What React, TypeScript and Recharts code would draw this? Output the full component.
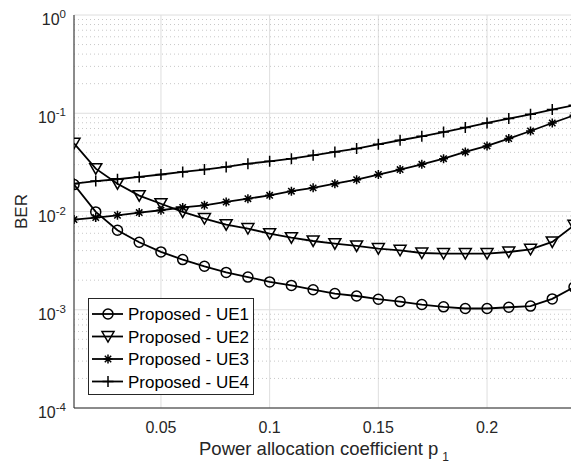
import React from "react";
import { LineChart, Line, XAxis, YAxis, CartesianGrid, Legend } from "recharts";

const pValues = [0.01, 0.02, 0.03, 0.04, 0.05, 0.06, 0.07, 0.08, 0.09, 0.1, 0.11, 0.12, 0.13, 0.14, 0.15, 0.16, 0.17, 0.18, 0.19, 0.2, 0.21, 0.22, 0.23, 0.24];
const ue1 = [0.0188, 0.0099, 0.00644, 0.00486, 0.00388, 0.00324, 0.00277, 0.0024, 0.00215, 0.00192, 0.00177, 0.0016, 0.00146, 0.00138, 0.00128, 0.00121, 0.00113, 0.00107, 0.00103, 0.00103, 0.00106, 0.00109, 0.00129, 0.0017];
const ue2 = [0.0494, 0.0273, 0.0192, 0.0145, 0.012, 0.0099, 0.00847, 0.00735, 0.0067, 0.00595, 0.00542, 0.00501, 0.00471, 0.00446, 0.00419, 0.00403, 0.00378, 0.00373, 0.00373, 0.00373, 0.00387, 0.00412, 0.0049, 0.00724];
const ue3 = [0.00827, 0.00867, 0.00915, 0.00975, 0.0103, 0.011, 0.01156, 0.0125, 0.0135, 0.0146, 0.0161, 0.0174, 0.0192, 0.0211, 0.0238, 0.0267, 0.0302, 0.0345, 0.0404, 0.0465, 0.0552, 0.066, 0.0796, 0.0953];
const ue4 = [0.0192, 0.0204, 0.0213, 0.0225, 0.0238, 0.0253, 0.0267, 0.0284, 0.0307, 0.0324, 0.0345, 0.0373, 0.0404, 0.0437, 0.0483, 0.0531, 0.0582, 0.0644, 0.0714, 0.0796, 0.0883, 0.0976, 0.109, 0.1205];

const xTicks = [0.05, 0.1, 0.15, 0.2];
const yTicks = [1e-4, 1e-3, 1e-2, 1e-1, 1];
const yMinor = [-4, -3, -2, -1].flatMap((e) => [2, 3, 4, 5, 6, 7, 8, 9].map((m) => m * Math.pow(10, e)));

const INK = "#262626";
const FONT = "'Liberation Sans', Arial, Helvetica, sans-serif";

const series = [
  { key: "ue1", name: "Proposed - UE1", marker: "circle" },
  { key: "ue2", name: "Proposed - UE2", marker: "triangle" },
  { key: "ue3", name: "Proposed - UE3", marker: "star" },
  { key: "ue4", name: "Proposed - UE4", marker: "plus" },
];

const data = pValues.map((p, i) => ({ p, ue1: ue1[i], ue2: ue2[i], ue3: ue3[i], ue4: ue4[i] }));

function Marker({ type, cx, cy }: { type: string; cx: number; cy: number }) {
  const st = { stroke: "#000", strokeWidth: 1.5, fill: "none" };
  if (type === "circle") return <circle cx={cx} cy={cy} r={5} {...st} />;
  if (type === "triangle")
    return <polygon points={`${cx - 6},${cy - 5} ${cx + 6},${cy - 5} ${cx},${cy + 5.5}`} {...st} />;
  if (type === "star") {
    const r = 4.5, d = 3.2;
    return (
      <path
        d={`M${cx - r},${cy}H${cx + r}M${cx},${cy - r}V${cy + r}M${cx - d},${cy - d}L${cx + d},${cy + d}M${cx - d},${cy + d}L${cx + d},${cy - d}`}
        {...st}
      />
    );
  }
  const r = 5.5;
  return <path d={`M${cx - r},${cy}H${cx + r}M${cx},${cy - r}V${cy + r}`} {...st} />;
}

const makeDot = (type: string) => (props: any) => {
  const { cx, cy, index } = props;
  if (cx == null || cy == null) return <g key={`e-${type}-${index}`} />;
  return <Marker key={`${type}-${index}`} type={type} cx={cx} cy={cy} />;
};

// minor grid rows go through the y axis scale
const minorRows = ({ yAxis }: any) => {
  const sc = yAxis && yAxis.scale;
  if (!sc) return [];
  return yMinor.map((v) => (typeof sc === "function" ? sc(v) : sc.map(v)));
};

const YTick = ({ x, y, payload }: any) => {
  const e = Math.round(Math.log10(payload.value));
  return (
    <text x={x} y={y + 10} textAnchor="end" fill={INK} fontSize={16} fontFamily={FONT}>
      <tspan>10</tspan>
      <tspan dy={-7} fontSize={11.5}>{e}</tspan>
    </text>
  );
};

const XTitle = ({ viewBox }: any) => {
  const cx = viewBox.x + viewBox.width / 2;
  return (
    <text x={cx} y={455} textAnchor="middle" fill={INK} fontSize={18.5} fontFamily={FONT}>
      <tspan>Power allocation coefficient p</tspan>
      <tspan dx={4} dy={6} fontSize={12}>1</tspan>
    </text>
  );
};

const YTitle = () => (
  <text x={27} y={211.5} textAnchor="middle" fill={INK} fontSize={17} fontFamily={FONT} transform="rotate(-90, 27, 211.5)">
    BER
  </text>
);

const LegendBox = () => (
  <svg width={166} height={97} style={{ display: "block" }}>
    <rect x={0.5} y={0.5} width={165} height={96} fill="#fff" stroke={INK} strokeWidth={1} />
    {series.map((s, i) => {
      const y = 16 + i * 22.5;
      return (
        <g key={s.key}>
          <line x1={4} x2={35} y1={y} y2={y} stroke="#000" strokeWidth={1.8} />
          <Marker type={s.marker} cx={20} cy={y} />
          <text x={40} y={y + 6} fontSize={17} fill="#000" fontFamily={FONT}>
            {s.name}
          </text>
        </g>
      );
    })}
  </svg>
);

export default function App() {
  return (
    <div style={{ position: "absolute", left: 0, top: 0, width: 571, height: 462, overflow: "hidden", background: "#fff", fontFamily: FONT }}>
      <LineChart width={580} height={462} data={data} margin={{ top: 15, right: 6, bottom: 0, left: 0 }}>
        <CartesianGrid xAxisId="x" yAxisId="y" stroke="#dedede" strokeWidth={1} />
        <CartesianGrid
          xAxisId="x"
          yAxisId="y"
          vertical={false}
          horizontalCoordinatesGenerator={minorRows}
          stroke="#c8c8c8"
          strokeDasharray="1 3"
        />
        <XAxis
          xAxisId="x"
          dataKey="p"
          type="number"
          domain={[0.01, 0.24]}
          allowDataOverflow
          ticks={xTicks}
          tickFormatter={(v: number) => String(v)}
          tickLine={false}
          tickMargin={8}
          axisLine={{ stroke: INK, strokeWidth: 1 }}
          tick={{ fill: INK, fontSize: 16 }}
          height={54}
          label={<XTitle />}
        />
        <XAxis xAxisId="xt" type="number" domain={[0.01, 0.24]} allowDataOverflow ticks={xTicks} mirror height={0} tick={false} axisLine={false} tickSize={5} tickLine={{ stroke: INK }} />
        <XAxis xAxisId="top" orientation="top" type="number" domain={[0.01, 0.24]} allowDataOverflow ticks={xTicks} mirror height={0} tick={false} tickSize={5} tickLine={{ stroke: INK }} axisLine={{ stroke: INK }} />
        <YAxis
          yAxisId="y"
          scale="log"
          domain={[1e-4, 1]}
          allowDataOverflow
          ticks={yTicks}
          tickLine={false}
          axisLine={{ stroke: INK, strokeWidth: 1 }}
          width={74}
          tick={<YTick />}
          label={<YTitle />}
        />
        <YAxis yAxisId="ymaj" scale="log" domain={[1e-4, 1]} allowDataOverflow ticks={yTicks} mirror width={0} tick={false} axisLine={false} tickSize={5} tickLine={{ stroke: INK }} />
        <YAxis yAxisId="ymin" scale="log" domain={[1e-4, 1]} allowDataOverflow ticks={yMinor} mirror width={0} tick={false} axisLine={false} tickSize={3} tickLine={{ stroke: INK }} />
        {series.map((s) => (
          <Line
            key={s.key}
            xAxisId="x"
            yAxisId="y"
            dataKey={s.key}
            name={s.name}
            stroke="#000"
            strokeWidth={1.8}
            dot={makeDot(s.marker)}
            activeDot={false}
            isAnimationActive={false}
          />
        ))}
        <Legend
          layout="vertical"
          align="center"
          verticalAlign="middle"
          wrapperStyle={{ left: 88, top: 298, width: 166, height: 97 }}
          content={() => <LegendBox />}
        />
      </LineChart>
    </div>
  );
}
